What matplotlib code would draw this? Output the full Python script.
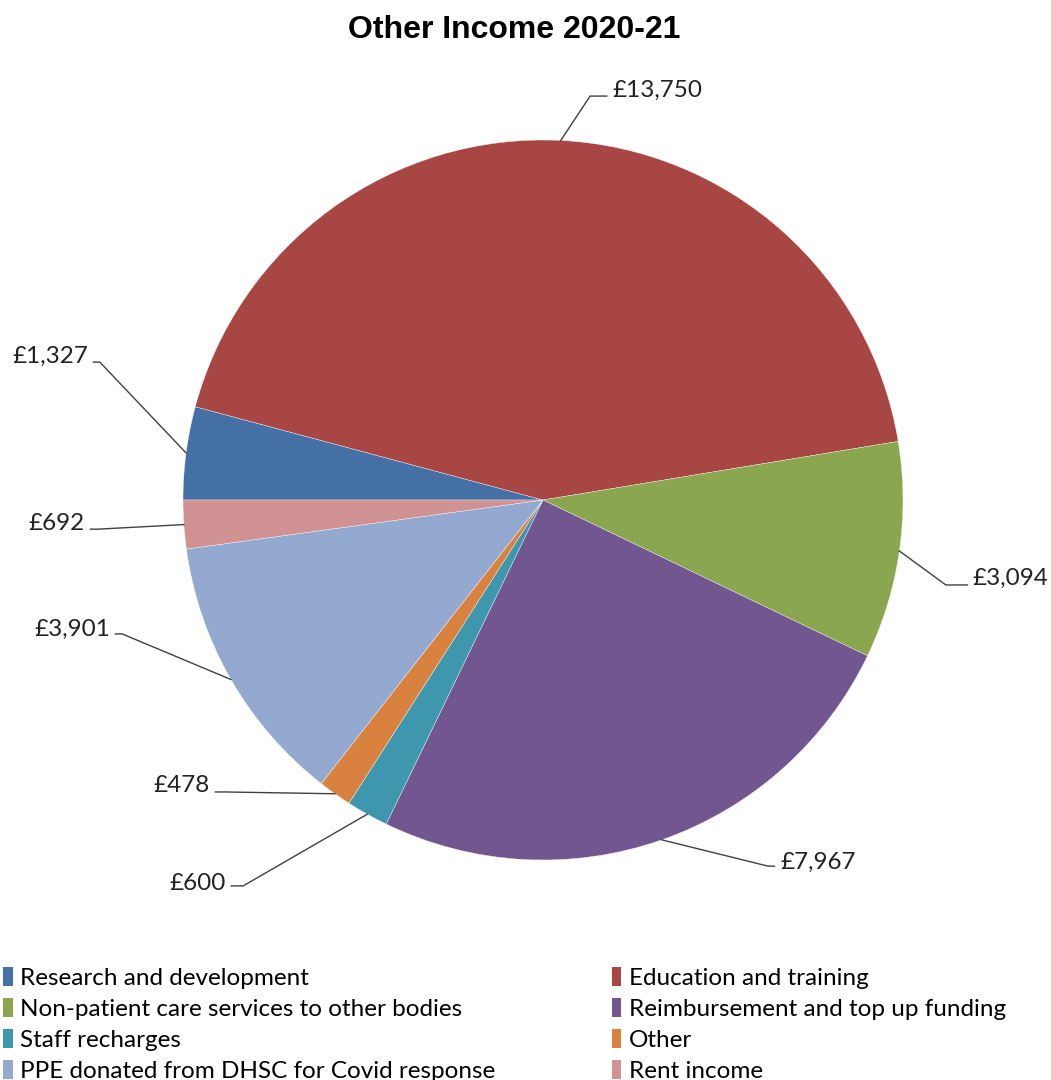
import numpy as np
import matplotlib
matplotlib.use("Agg")
import matplotlib.pyplot as plt
from matplotlib.patches import Patch

# Other income by category (£000)
categories = [
    "Research and development",
    "Education and training",
    "Non-patient care services to other bodies",
    "Reimbursement and top up funding",
    "Staff recharges",
    "Other",
    "PPE donated from DHSC for Covid response",
    "Rent income",
]
values = [1327, 13750, 3094, 7967, 600, 478, 3901, 692]
colors = ["#4470A6", "#A84644", "#8AA64E", "#725690",
          "#3F97AE", "#D9823F", "#94A9D0", "#D09292"]

# label text anchor and leader elbow for each slice (axis units, radius = 1)
label_pos = [(-1.264, 0.400), (0.192, 1.139), (1.194, -0.217), (0.658, -1.006),
             (-0.881, -1.064), (-0.925, -0.792), (-1.203, -0.358), (-1.272, -0.064)]
elbow_pos = [(-1.231, 0.383), (0.131, 1.122), (1.119, -0.236), (0.625, -1.017),
             (-0.833, -1.072), (-0.883, -0.811), (-1.169, -0.372), (-1.236, -0.081)]

plt.rcParams["font.family"] = ["Lato", "DejaVu Sans"]

W, H = 1051, 1080
fig = plt.figure(figsize=(W / 100, H / 100), dpi=100)
ax = fig.add_axes([0, 0, 1, 1])

cx, cy, r = 543, 500, 360
wedges, _ = ax.pie(values, colors=colors, startangle=180, counterclock=False,
                   wedgeprops=dict(edgecolor="white", linewidth=0.25))
ax.set_aspect("auto")
ax.set_xlim(-cx / r, (W - cx) / r)
ax.set_ylim(-(H - cy) / r, cy / r)
ax.axis("off")

for w, v, (tx, ty), (ex, ey) in zip(wedges, values, label_pos, elbow_pos):
    mid = np.deg2rad((w.theta1 + w.theta2) / 2)
    ax_, ay_ = np.cos(mid), np.sin(mid)
    ha = "left" if tx > ex else "right"
    end_x = tx - 0.015 if ha == "left" else tx + 0.015
    ax.plot([ax_, ex, end_x], [ay_, ey, ey], color="#404040", lw=1.0,
            clip_on=False, solid_joinstyle="miter")
    ax.text(tx, ty, f"£{v:,}", ha=ha, va="center", fontsize=17.5, color="#222222")

fig.text(514 / W, 1 - 30 / H, "Other Income 2020-21", ha="center", va="center",
         fontsize=23, fontweight="bold", family="Liberation Sans")

handles = [Patch(facecolor=c, edgecolor="none") for c in colors]
left_idx = [0, 2, 4, 6]
right_idx = [1, 3, 5, 7]
legend_kw = dict(frameon=False, fontsize=17.5, handlelength=0.4, handleheight=0.8,
                 handletextpad=0.3, labelspacing=0.38, borderaxespad=0, borderpad=0)
leg1 = fig.legend([handles[i] for i in left_idx], [categories[i] for i in left_idx],
                  loc="upper left", bbox_to_anchor=(0.003, 1 - 967 / H), **legend_kw)
leg2 = fig.legend([handles[i] for i in right_idx], [categories[i] for i in right_idx],
                  loc="upper left", bbox_to_anchor=(0.582, 1 - 967 / H), **legend_kw)

fig.savefig("out.png", dpi=100, facecolor="white")
